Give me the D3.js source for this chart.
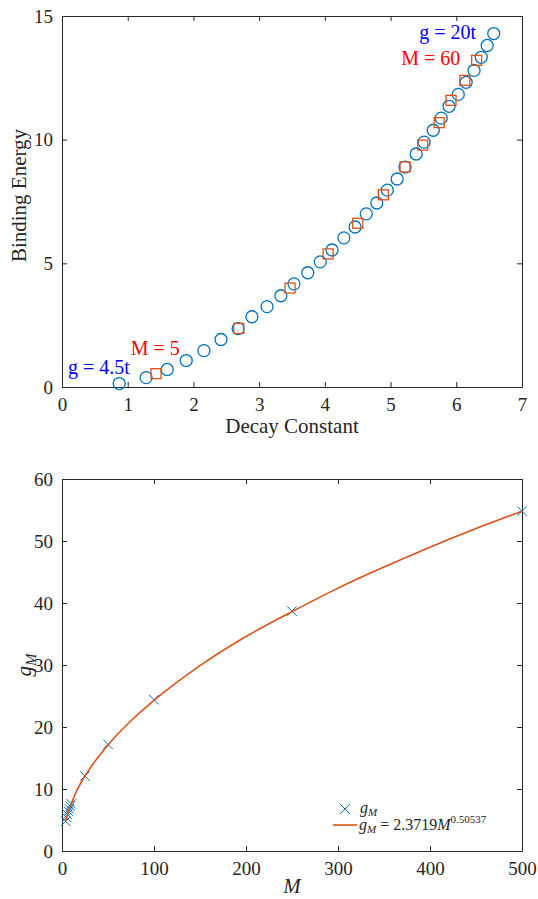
<!DOCTYPE html>
<html lang="en">
<head>
<meta charset="UTF-8">
<title>Binding energy and g_M fit</title>
<style>
  body { margin: 0; background: #fff; }
  text { font-family: "Liberation Serif", "Times New Roman", serif; fill: #262626; }
  .domain { stroke: #262626; }
  .tick line { stroke: #262626; }
</style>
</head>
<body>
<svg id="svg" width="538" height="899"></svg>
<script src="https://d3js.org/d3.v7.min.js"></script>
<script>
// ------ DATA ------------------------------------------------
// top panel: circles, g = 4.5t ... 20t
const decayG = [0.87, 1.28, 1.60, 1.89, 2.16, 2.42, 2.68, 2.89, 3.12, 3.33, 3.53, 3.74, 3.93, 4.11, 4.29, 4.46,
                4.63, 4.79, 4.95, 5.10, 5.22, 5.39, 5.51, 5.65, 5.77, 5.89, 6.03, 6.15, 6.27, 6.38, 6.47, 6.57]
const energyG = [0.14, 0.38, 0.71, 1.07, 1.47, 1.92, 2.36, 2.84, 3.25, 3.69, 4.17, 4.62, 5.06, 5.54, 6.03, 6.47,
                 7.00, 7.44, 7.96, 8.41, 8.89, 9.42, 9.90, 10.38, 10.87, 11.35, 11.83, 12.32, 12.80, 13.33, 13.81, 14.29]
// top panel: squares, M = 5 ... 60
const decayM = [1.43, 2.69, 3.47, 4.05, 4.50, 4.89, 5.22, 5.49, 5.74, 5.92, 6.13, 6.31]
const energyM = [0.54, 2.37, 4.00, 5.38, 6.62, 7.77, 8.90, 9.78, 10.69, 11.59, 12.40, 13.21]
const annoText = ['g = 4.5t', 'M = 5', 'g = 20t', 'M = 60']
const annoX = [0.56, 1.42, 5.87, 5.61]
const annoY = [0.54, 1.31, 14.09, 13.0]
const annoColor = ['#0000ff', '#ff0000', '#0000ff', '#ff0000']
const topXTicks = [0, 1, 2, 3, 4, 5, 6, 7]
const topYTicks = [0, 5, 10, 15]

// bottom panel: crosses
const mVals = [4, 5, 6, 7, 8, 9, 10, 25, 50, 100, 250, 500]
const gVals = [4.8, 5.4, 5.9, 6.4, 6.8, 7.2, 7.6, 12.1, 17.2, 24.4, 38.7, 54.8]
// bottom panel: fitted curve
const fitM = [4, 7, 10, 15, 25, 50, 75, 100, 150, 200, 250, 300, 350, 400, 450, 500]
const fitG = [4.8, 6.4, 7.6, 9.4, 12.1, 17.1, 21.0, 24.3, 29.9, 34.6, 38.6, 42.4, 45.8, 49.0, 52.0, 54.8]
const botXTicks = [0, 100, 200, 300, 400, 500]
const botYTicks = [0, 10, 20, 30, 40, 50, 60]

// ------ CONSTANTS ------------------------
const left = 62, right = 522
const top1 = 16, bottom1 = 387
const top2 = 479, bottom2 = 851
const blue = '#0072BD', orange = '#D95319'
const tickFont = 19, labelFont = 21

const svg = d3.select('#svg')

// ------ SCALES ------------------------
const x1 = d3.scaleLinear().domain([0, 7]).range([left, right])
const y1 = d3.scaleLinear().domain([0, 15]).range([bottom1, top1])
const x2 = d3.scaleLinear().domain([0, 500]).range([left, right])
const y2 = d3.scaleLinear().domain([0, 60]).range([bottom2, top2])

// draws a boxed axes with inward ticks on all four sides
function drawAxes(xs, ys, xt, yt, yTop, yBottom) {
  const fmt = d3.format('d')
  const g = svg.append('g')
  g.append('g')
    .attr('transform', `translate(0, ${yBottom})`)
    .call(d3.axisBottom(xs).tickValues(xt).tickFormat(fmt).tickSizeInner(-5).tickSizeOuter(0).tickPadding(11))
  g.append('g')
    .attr('transform', `translate(${left}, 0)`)
    .call(d3.axisLeft(ys).tickValues(yt).tickFormat(fmt).tickSizeInner(-5).tickSizeOuter(0).tickPadding(9))
  g.append('g')
    .attr('transform', `translate(0, ${yTop})`)
    .call(d3.axisTop(xs).tickValues(xt).tickSizeInner(-5).tickSizeOuter(0).tickFormat(''))
  g.append('g')
    .attr('transform', `translate(${right}, 0)`)
    .call(d3.axisRight(ys).tickValues(yt).tickSizeInner(-5).tickSizeOuter(0).tickFormat(''))
  g.selectAll('text').attr('font-size', tickFont).style('font-family', '"Liberation Serif", serif').attr('fill', '#262626')
  g.selectAll('.domain, .tick line').attr('stroke', '#262626').attr('stroke-width', 1)
  return g
}

// ------ TOP PANEL ------------------------
drawAxes(x1, y1, topXTicks, topYTicks, top1, bottom1)

svg.append('g')
  .selectAll('circle')
  .data(decayG)
  .enter()
  .append('circle')
  .attr('cx', d => x1(d))
  .attr('cy', (d, i) => y1(energyG[i]))
  .attr('r', 6)
  .attr('fill', 'none')
  .attr('stroke', blue)
  .attr('stroke-width', 1.3)

svg.append('g')
  .selectAll('rect')
  .data(decayM)
  .enter()
  .append('rect')
  .attr('x', d => x1(d) - 5)
  .attr('y', (d, i) => y1(energyM[i]) - 5)
  .attr('width', 10)
  .attr('height', 10)
  .attr('fill', 'none')
  .attr('stroke', orange)
  .attr('stroke-width', 1.3)

svg.append('g')
  .selectAll('text')
  .data(annoText)
  .enter()
  .append('text')
  .attr('x', (d, i) => x1(annoX[i]))
  .attr('y', (d, i) => y1(annoY[i]))
  .attr('text-anchor', 'middle')
  .attr('font-size', 20)
  .style('fill', (d, i) => annoColor[i])
  .text(d => d)

svg.append('text')
  .attr('x', (left + right) / 2)
  .attr('y', 433)
  .attr('text-anchor', 'middle')
  .attr('font-size', labelFont)
  .text('Decay Constant')

svg.append('text')
  .attr('transform', `translate(26, ${(top1 + bottom1) / 2 - 6}) rotate(-90)`)
  .attr('text-anchor', 'middle')
  .attr('font-size', labelFont)
  .text('Binding Energy')

// ------ BOTTOM PANEL ------------------------
drawAxes(x2, y2, botXTicks, botYTicks, top2, bottom2)

const cross = d3.symbol().type(d3.symbolTimes).size(60)
svg.append('g')
  .selectAll('path')
  .data(mVals)
  .enter()
  .append('path')
  .attr('transform', (d, i) => `translate(${x2(d)}, ${y2(gVals[i])})`)
  .attr('d', cross)
  .attr('fill', 'none')
  .attr('stroke', blue)
  .attr('stroke-width', 1)

const fitLine = d3.line()
  .x(d => x2(d))
  .y((d, i) => y2(fitG[i]))
  .curve(d3.curveMonotoneX)

svg.append('path')
  .datum(fitM)
  .attr('d', fitLine)
  .attr('fill', 'none')
  .attr('stroke', orange)
  .attr('stroke-width', 1.6)

// legend
const legend = svg.append('g')
legend.append('path')
  .attr('transform', 'translate(345, 809)')
  .attr('d', cross)
  .attr('fill', 'none')
  .attr('stroke', blue)
legend.append('line')
  .attr('x1', 333).attr('x2', 357)
  .attr('y1', 825).attr('y2', 825)
  .attr('stroke', orange)
  .attr('stroke-width', 1.6)

const leg1 = legend.append('text').attr('x', 360).attr('y', 813).attr('font-size', 16)
leg1.append('tspan').attr('font-style', 'italic').text('g')
leg1.append('tspan').attr('font-style', 'italic').attr('font-size', 11).attr('dy', 3).text('M')

const leg2 = legend.append('text').attr('x', 359).attr('y', 830).attr('font-size', 16)
leg2.append('tspan').attr('font-style', 'italic').text('g')
leg2.append('tspan').attr('font-style', 'italic').attr('font-size', 11).attr('dy', 3).text('M')
leg2.append('tspan').attr('dy', -3).text(' = 2.3719')
leg2.append('tspan').attr('font-style', 'italic').text('M')
leg2.append('tspan').attr('font-size', 11).attr('dy', -7).text('0.50537')

svg.append('text')
  .attr('x', (left + right) / 2)
  .attr('y', 893)
  .attr('text-anchor', 'middle')
  .attr('font-size', labelFont)
  .attr('font-style', 'italic')
  .text('M')

const yl = svg.append('text')
  .attr('transform', `translate(31, ${(top2 + bottom2) / 2}) rotate(-90)`)
  .attr('text-anchor', 'middle')
  .attr('font-size', labelFont)
yl.append('tspan').attr('font-style', 'italic').text('g')
yl.append('tspan').attr('font-style', 'italic').attr('font-size', 15).attr('dy', 5).text('M')
</script>
</body>
</html>
